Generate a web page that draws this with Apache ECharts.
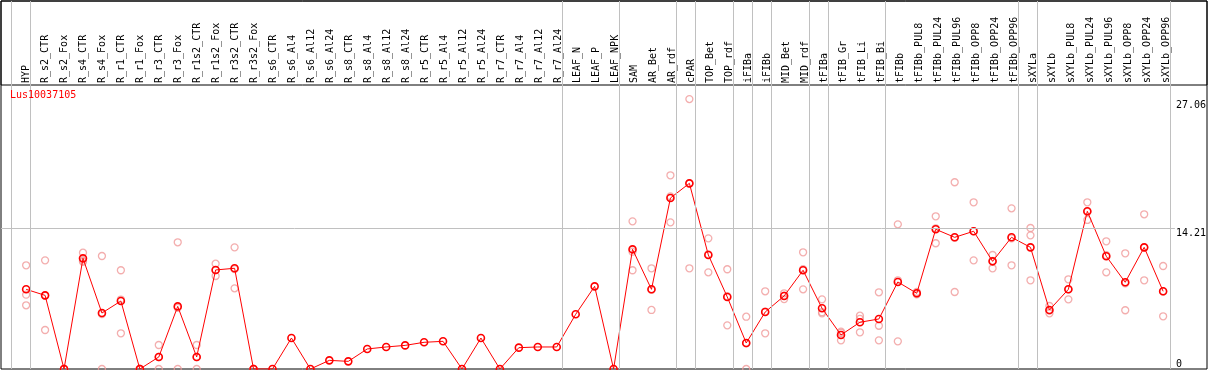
<!DOCTYPE html>
<html>
<head>
<meta charset="utf-8">
<script src="https://cdn.jsdelivr.net/npm/echarts@6/dist/echarts.min.js"></script>
<style>
html,body{margin:0;padding:0;background:#fff;}
#c{width:1209px;height:370px;}
</style>
</head>
<body>
<div id="c"></div>
<script>
const categories = ["HYP","R_s2_CTR","R_s2_Fox","R_s4_CTR","R_s4_Fox","R_r1_CTR","R_r1_Fox","R_r3_CTR","R_r3_Fox","R_r1s2_CTR","R_r1s2_Fox","R_r3s2_CTR","R_r3s2_Fox","R_s6_CTR","R_s6_Al4","R_s6_Al12","R_s6_Al24","R_s8_CTR","R_s8_Al4","R_s8_Al12","R_s8_Al24","R_r5_CTR","R_r5_Al4","R_r5_Al12","R_r5_Al24","R_r7_CTR","R_r7_Al4","R_r7_Al12","R_r7_Al24","LEAF_N","LEAF_P","LEAF_NPK","SAM","AR_Bet","AR_rdf","cPAR","TOP_Bet","TOP_rdf","iFIBa","iFIBb","MID_Bet","MID_rdf","tFIBa","tFIB_Gr","tFIB_Li","tFIB_Bi","tFIBb","tFIBb_PUL8","tFIBb_PUL24","tFIBb_PUL96","tFIBb_OPP8","tFIBb_OPP24","tFIBb_OPP96","sXYLa","sXYLb","sXYLb_PUL8","sXYLb_PUL24","sXYLb_PUL96","sXYLb_OPP8","sXYLb_OPP24","sXYLb_OPP96"];

const meanValues = [8.03,7.42,0,11.15,5.64,6.85,0,1.21,6.31,1.21,9.98,10.15,0,0,3.12,0,0.87,0.77,2.02,2.22,2.38,2.69,2.79,0,3.12,0,2.15,2.22,2.22,5.51,8.33,0,12.06,8.03,17.23,18.71,11.49,7.26,2.62,5.74,7.36,9.95,6.12,3.43,4.71,5.04,8.77,7.63,14.08,13.27,13.88,10.85,13.27,12.26,5.95,8.03,15.89,11.36,8.74,12.26,7.83];

const rep1 = [10.45,10.95,0,11.72,11.39,9.95,0,2.42,12.77,2.42,10.61,12.26,0,null,null,null,null,null,null,null,null,null,null,null,null,null,null,null,null,null,null,null,14.88,10.15,19.52,27.2,13.17,10.05,5.27,7.83,7.63,11.76,7.02,3.76,5.37,7.73,14.58,7.76,15.39,18.82,16.8,11.49,16.19,14.21,6.35,9.04,16.8,12.87,11.66,15.59,10.38];
const rep2 = [7.49,7.38,0,10.92,5.53,7.0,0,1.21,6.16,1.21,9.96,10.06,0,null,null,null,null,null,null,null,null,null,null,null,null,null,null,null,null,null,null,null,11.82,7.99,17.39,18.7,11.56,7.33,2.59,5.79,7.4,10.06,5.73,3.64,5.06,4.36,8.94,7.6,14.18,13.23,13.89,10.9,13.17,13.47,5.89,8.03,15.85,11.47,8.64,12.25,7.8];
const rep3 = [6.42,3.93,0,10.81,0,3.6,0,0,0,0,9.37,8.13,0,null,null,null,null,null,null,null,null,null,null,null,null,null,null,null,null,null,null,null,9.95,5.95,14.78,10.15,9.74,4.4,0,3.6,7.05,8.03,5.61,2.89,3.7,2.89,2.79,7.53,12.67,7.76,10.95,10.15,10.45,8.94,5.61,7.02,15.02,9.74,5.92,8.94,5.31];

const groupEnds = [-1,0,28,31,34,35,37,38,39,41,42,45,52,53,60];
const yTickLabels = [14.21, 27.06];
const yZeroLabel = [0];
const refLine = 14.21;
const titleText = "Lus10037105";

const FONT = "DejaVu Sans Mono";
const X_MIN = -1.3263;
const repData = [];
[rep1, rep2, rep3].forEach(r => r.forEach((v, i) => { if (v !== null) repData.push([i, v]); }));
const mainData = meanValues.map((v, i) => [i, v]);

const chart = echarts.init(document.getElementById('c'), null, {renderer: 'canvas'});
const hiddenVal = (gi, extra) => Object.assign({type: 'value', gridIndex: gi, show: false, splitLine: {show: false}}, extra || {});
chart.setOption({
  animation: false,
  backgroundColor: '#ffffff',
  title: {
    text: titleText, left: 10, top: 90, padding: 0,
    textStyle: {color: '#ff0000', fontSize: 10, fontWeight: 'normal', fontFamily: FONT}
  },
  grid: [
    {left: 1, right: 2, top: 1, bottom: 1, show: true, borderColor: '#000', borderWidth: 1, backgroundColor: 'transparent'},
    {left: 1, right: 31, top: 85, bottom: 1},
    {left: 16.7, right: 33.3, top: 85, bottom: 1},
    {left: 1, right: 2, top: 1, height: 84, show: true, borderColor: '#000', borderWidth: 1, backgroundColor: 'transparent'}
  ],
  xAxis: [
    hiddenVal(0, {min: X_MIN, max: 62.147}),
    hiddenVal(1, {min: X_MIN, max: 60.621}),
    {type: 'category', gridIndex: 2, position: 'top', data: categories, boundaryGap: true,
     axisLine: {show: false}, axisTick: {show: false}, splitLine: {show: false},
     axisLabel: {rotate: 90, interval: 0, margin: 2, color: '#000', fontSize: 10, fontFamily: FONT}},
    hiddenVal(3, {min: 0, max: 1})
  ],
  yAxis: [
    hiddenVal(0, {min: 0, max: 1}),
    {type: 'value', gridIndex: 1, position: 'right', min: 0, max: 28.62,
     axisLine: {show: false}, axisTick: {show: false}, splitLine: {show: false},
     axisLabel: {customValues: yTickLabels, formatter: v => v.toFixed(2), verticalAlign: 'top', align: 'left', margin: 1, color: '#000', fontSize: 10, fontFamily: FONT}},
    {type: 'value', gridIndex: 1, position: 'right', min: 0, max: 28.62,
     axisLine: {show: false}, axisTick: {show: false}, splitLine: {show: false},
     axisLabel: {customValues: yZeroLabel, formatter: v => String(v), verticalAlign: 'bottom', align: 'left', margin: 1, color: '#000', fontSize: 10, fontFamily: FONT}},
    hiddenVal(2, {min: 0, max: 1}),
    hiddenVal(3, {min: 0, max: 1})
  ],
  series: [
    {type: 'line', xAxisIndex: 0, yAxisIndex: 0, data: [], silent: true,
     markLine: {silent: true, symbol: 'none', label: {show: false},
       lineStyle: {color: '#c0c0c0', width: 1, type: 'solid'},
       data: groupEnds.map(g => ({xAxis: g + 0.23}))}},
    {type: 'line', xAxisIndex: 1, yAxisIndex: 1, data: [], silent: true,
     markLine: {silent: true, symbol: 'none', label: {show: false},
       lineStyle: {color: '#c0c0c0', width: 1, type: 'solid'},
       data: [{yAxis: refLine}]}},
    {type: 'scatter', xAxisIndex: 1, yAxisIndex: 1, data: repData, symbol: 'circle', symbolSize: 7, silent: true, z: 3,
     itemStyle: {color: 'rgba(0,0,0,0)', borderColor: '#f09a9a', borderWidth: 1.3}},
    {type: 'line', xAxisIndex: 1, yAxisIndex: 1, data: mainData, symbol: 'circle', symbolSize: 7, silent: true, z: 4,
     lineStyle: {color: '#ff0000', width: 1},
     itemStyle: {color: 'rgba(0,0,0,0)', borderColor: '#ff0000', borderWidth: 1.6}}
  ]
});
</script>
</body>
</html>
